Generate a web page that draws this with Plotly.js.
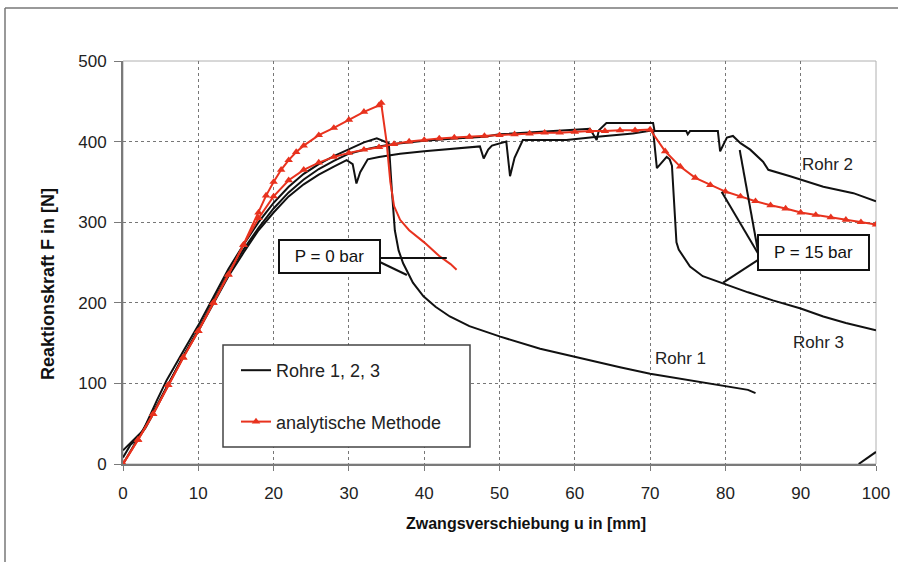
<!DOCTYPE html>
<html>
<head>
<meta charset="utf-8">
<script src="https://cdn.plot.ly/plotly-3.0.1.min.js"></script>
<style>
html,body{margin:0;padding:0;background:#fff;}
#chart{width:903px;height:562px;}
</style>
</head>
<body>
<div id="chart"></div>
<script>
// ---- Data ----
const xTicks = [0, 10, 20, 30, 40, 50, 60, 70, 80, 90, 100];
const yTicks = [0, 100, 200, 300, 400, 500];

const rohr1X = [0, 1.4, 2.7, 4.5, 5.8, 8, 10, 12, 14, 16, 18, 20, 22, 24, 26, 28, 30, 32, 33.7, 34.5, 35.3, 35.7, 36.1, 36.6, 37.2, 38.5, 39.9, 41.5, 43.4, 46, 50.1, 55.4, 61.6, 66, 70, 75, 80, 83, 84];
const rohr1Y = [17, 30, 42, 79, 104, 140, 172, 207, 242, 272, 300, 324, 344, 360, 372, 382, 391, 399, 404, 401, 398, 340, 290, 265, 249, 225, 208, 195, 183, 171, 158, 143, 129, 120, 112, 104, 96, 92, 88];

const rohr2X = [0, 1, 2, 3, 4, 6, 8, 10, 12, 14, 16, 18, 20, 22, 24, 26, 28, 30, 32, 34, 36, 38, 40, 44, 48, 50, 55, 60, 62, 62.9, 63.2, 64.2, 67, 70.4, 70.6, 74.8, 75, 75.3, 79, 79.3, 80.2, 81, 82, 83.3, 85, 85.7, 88.6, 93, 97, 100];
const rohr2Y = [8, 24, 32, 45, 62, 98, 134, 167, 202, 237, 266, 293, 317, 337, 353, 366, 376, 385, 390, 394, 397, 399, 401, 404, 406, 409, 412, 415, 416, 402, 414, 423, 423, 423, 413, 413, 409, 413, 413, 388, 405, 407, 398, 390, 375, 365, 357, 344, 336, 326];

const rohr3X = [0, 2, 4, 6, 8, 10, 12, 14, 16, 18, 20, 22, 24, 26, 28, 29.7, 30.5, 31, 31.5, 32.5, 34, 36.8, 40, 44, 47.4, 47.9, 48.5, 49, 50.9, 51.4, 52, 53.1, 58.9, 63, 67.7, 70.4, 70.9, 72.2, 72.6, 72.9, 73.1, 73.3, 73.5, 73.8, 75.3, 77, 79.7, 83, 86.3, 90, 93, 96, 100];
const rohr3Y = [0, 32, 64, 99, 133, 165, 199, 233, 262, 290, 312, 332, 347, 359, 369, 377, 372, 348, 362, 378, 381, 385, 388, 391, 394, 379, 390, 395, 400, 357, 380, 402, 402, 406, 410, 414, 367, 381, 378, 370, 340, 299, 275, 266, 245, 233, 224, 213, 203, 193, 183, 175, 166];

const rohrReloadX = [97.7, 100];
const rohrReloadY = [0, 15];

// analytische Methode, P = 0 bar (rising part with markers, falling part without)
const ana0RiseX = [0, 2, 4, 6, 8, 10, 12, 14, 16, 18, 19, 20, 21, 22, 23, 24, 26, 28, 30, 32, 34, 34.3];
const ana0RiseY = [0, 30, 62, 98, 132, 165, 200, 235, 272, 312, 333, 350, 365, 377, 387, 395, 408, 417, 427, 437, 445, 448];
const ana0FallX = [34.3, 34.4, 35, 35.5, 36, 36.8, 38, 40, 42, 43.5, 44.3];
const ana0FallY = [448, 440, 400, 350, 320, 303, 290, 275, 258, 248, 241];

// analytische Methode, P = 15 bar
const ana15X = [0, 2, 4, 6, 8, 10, 12, 14, 16, 18, 20, 22, 24, 26, 28, 30, 32, 34, 36, 38, 40, 42, 44, 46, 48, 50, 52, 54, 56, 58, 60, 62, 64, 66, 68, 70, 72, 74, 76, 78, 80, 82, 84, 86, 88, 90, 92, 94, 96, 98, 100];
const ana15Y = [0, 30, 62, 98, 132, 165, 200, 235, 272, 305, 332, 352, 365, 374, 381, 386, 390, 393, 397, 400, 402, 404, 405, 406, 407, 408, 409, 410, 411, 411, 412, 413, 413, 414, 414, 415, 388, 369, 355, 346, 338, 332, 326, 321, 317, 312, 309, 306, 303, 300, 297];

// ---- Styling ----
const BLACK = '#111111';
const RED = '#e8321e';
const FONT = 'Liberation Sans, Arial, sans-serif';

const blackLine = {color: BLACK, width: 2};
const redLine = {color: RED, width: 2};
const redMarker = {symbol: 'triangle-up', size: 7.5, color: RED};

const traces = [
  {x: rohr1X, y: rohr1Y, type: 'scatter', mode: 'lines', line: blackLine, name: 'Rohre 1, 2, 3', legendgroup: 'a', showlegend: true},
  {x: rohr2X, y: rohr2Y, type: 'scatter', mode: 'lines', line: blackLine, name: 'Rohr 2', legendgroup: 'a', showlegend: false},
  {x: rohr3X, y: rohr3Y, type: 'scatter', mode: 'lines', line: blackLine, name: 'Rohr 3', legendgroup: 'a', showlegend: false},
  {x: rohrReloadX, y: rohrReloadY, type: 'scatter', mode: 'lines', line: blackLine, legendgroup: 'a', showlegend: false},
  {x: ana15X, y: ana15Y, type: 'scatter', mode: 'lines+markers', line: redLine, marker: redMarker, name: 'analytische Methode', legendgroup: 'b', showlegend: true},
  {x: ana0RiseX, y: ana0RiseY, type: 'scatter', mode: 'lines+markers', line: redLine, marker: redMarker, legendgroup: 'b', showlegend: false},
  {x: ana0FallX, y: ana0FallY, type: 'scatter', mode: 'lines', line: redLine, legendgroup: 'b', showlegend: false}
];

// plot area in pixels: x 123..876, y 61..464
const L = 123, R = 876, T = 61, B = 464;
const px = v => (v - L) / (R - L);
const py = v => (B - v) / (B - T);

const lineShape = (x0, y0, x1, y1) => ({type: 'line', xref: 'x', yref: 'y', x0, y0, x1, y1, line: {color: BLACK, width: 2}});

const layout = {
  width: 903, height: 562,
  margin: {l: L, r: 903 - R, t: T, b: 562 - B},
  paper_bgcolor: '#ffffff', plot_bgcolor: '#ffffff',
  font: {family: FONT, size: 17, color: '#222'},
  showlegend: true,
  legend: {
    x: px(236), y: py(352), xanchor: 'left', yanchor: 'top',
    bgcolor: 'rgba(0,0,0,0)', borderwidth: 0,
    font: {family: FONT, size: 18, color: '#222'},
    tracegroupgap: 25, itemwidth: 30
  },
  xaxis: {
    range: [0, 100], tickvals: xTicks, ticktext: xTicks.map(String),
    showgrid: true, gridcolor: '#777', griddash: 'dot', gridwidth: 1,
    zeroline: false, showline: true, linecolor: '#7a7a7a', linewidth: 2,
    ticks: 'outside', ticklen: 5, tickcolor: '#7a7a7a', tickwidth: 1,
    tickfont: {family: FONT, size: 17, color: '#222'},
    ticklabelstandoff: 8, fixedrange: true
  },
  yaxis: {
    range: [0, 500], tickvals: yTicks, ticktext: yTicks.map(String),
    showgrid: true, gridcolor: '#777', griddash: 'dot', gridwidth: 1,
    zeroline: false, showline: true, linecolor: '#7a7a7a', linewidth: 2,
    ticks: 'outside', ticklen: 7, tickcolor: '#7a7a7a', tickwidth: 1,
    tickfont: {family: FONT, size: 17, color: '#222'},
    ticklabelstandoff: 4, fixedrange: true
  },
  shapes: [
    {type: 'rect', xref: 'paper', yref: 'paper', x0: 0, y0: 0, x1: 1, y1: 1, line: {color: '#b0b0b0', width: 1}, layer: 'below'},
    {type: 'line', xref: 'paper', yref: 'paper', x0: px(5), y0: py(8), x1: px(898), y1: py(8), line: {color: '#777', width: 1.5}},
    {type: 'line', xref: 'paper', yref: 'paper', x0: px(5), y0: py(8), x1: px(5), y1: py(562), line: {color: '#777', width: 1.5}},
    {type: 'rect', xref: 'paper', yref: 'paper', x0: px(223), y0: py(447), x1: px(470), y1: py(345), line: {color: '#444', width: 1.5}, fillcolor: '#ffffff', layer: 'above'},
    lineShape(34.1, 255.6, 43.0, 255.6),
    lineShape(34.1, 250.6, 37.7, 234.5),
    lineShape(84.3, 265.5, 81.9, 389.6),
    lineShape(84.3, 261.8, 79.5, 337.8),
    lineShape(84.3, 253.0, 79.7, 225.0)
  ],
  annotations: [
    {x: 27.4, y: 257.5, xref: 'x', yref: 'y', text: 'P = 0 bar', showarrow: false,
     font: {family: FONT, size: 17, color: '#111'}, bgcolor: '#fff', bordercolor: '#111', borderwidth: 2, borderpad: 2, width: 95, height: 27},
    {x: 91.7, y: 262.4, xref: 'x', yref: 'y', text: 'P = 15 bar', showarrow: false,
     font: {family: FONT, size: 17, color: '#111'}, bgcolor: '#fff', bordercolor: '#111', borderwidth: 2, borderpad: 2, width: 105, height: 29},
    {x: 93.6, y: 372, xref: 'x', yref: 'y', text: 'Rohr 2', showarrow: false, font: {family: FONT, size: 17, color: '#222'}},
    {x: 92.3, y: 151, xref: 'x', yref: 'y', text: 'Rohr 3', showarrow: false, font: {family: FONT, size: 17, color: '#222'}},
    {x: 74.1, y: 131.5, xref: 'x', yref: 'y', text: 'Rohr 1', showarrow: false, font: {family: FONT, size: 17, color: '#222'}},
    {x: px(404), y: py(523), xref: 'paper', yref: 'paper', xanchor: 'left', yanchor: 'middle', text: '<b>Zwangsverschiebung u in [mm]</b>', showarrow: false,
     font: {family: FONT, size: 16, color: '#111'}},
    {x: px(48), y: py(284), xref: 'paper', yref: 'paper', xanchor: 'center', yanchor: 'middle', text: '<b>Reaktionskraft F in [N]</b>', textangle: -90, showarrow: false,
     font: {family: FONT, size: 18, color: '#111'}}
  ]
};

Plotly.newPlot('chart', traces, layout, {staticPlot: true, displayModeBar: false});
</script>
</body>
</html>
